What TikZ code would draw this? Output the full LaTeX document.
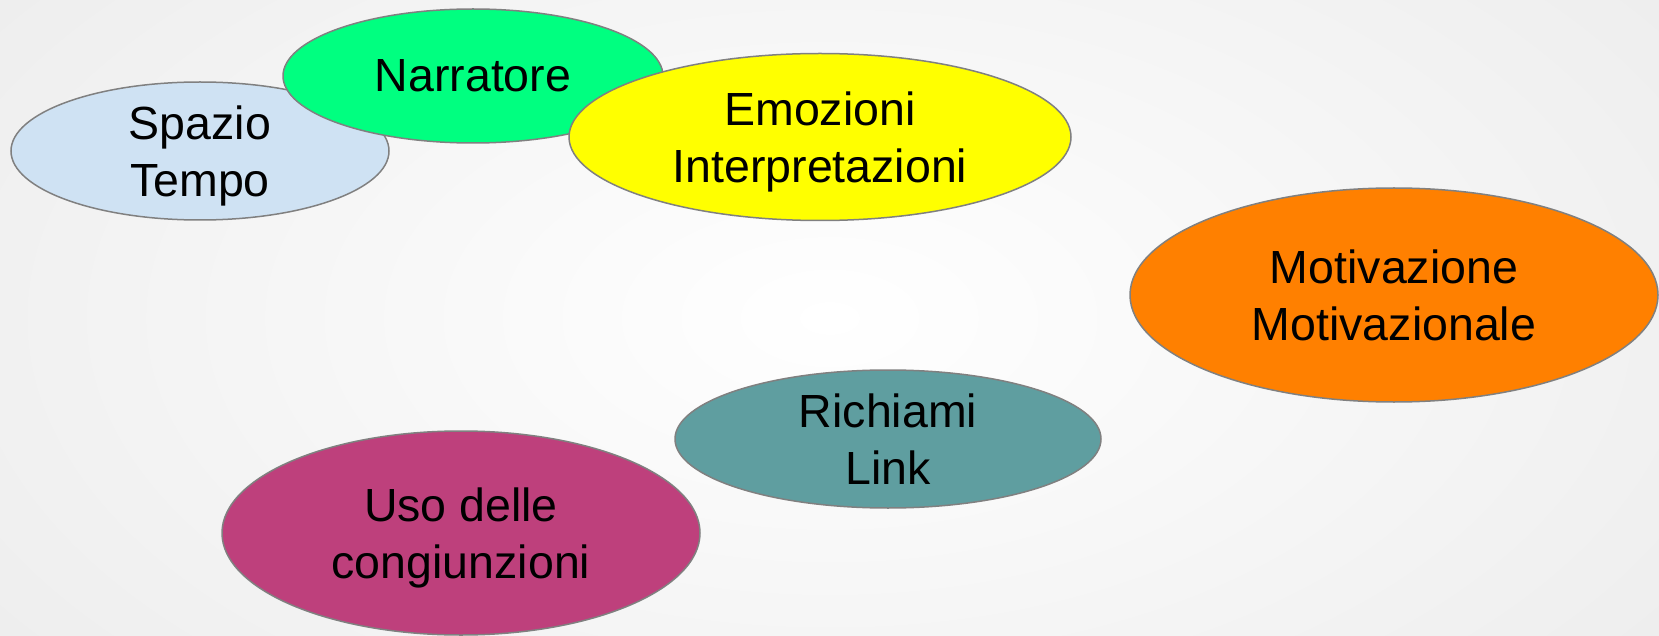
\documentclass[tikz,border=0pt]{standalone}
\usepackage{fontspec}
\setmainfont{Liberation Sans}
\usetikzlibrary{shapes.geometric}
\definecolor{cSpazio}{RGB}{207,226,243}
\definecolor{cNarr}{RGB}{0,255,128}
\definecolor{cEmo}{RGB}{255,255,0}
\definecolor{cMoti}{RGB}{255,128,0}
\definecolor{cRich}{RGB}{95,158,160}
\definecolor{cUso}{RGB}{190,64,124}
\definecolor{cEdge}{RGB}{128,128,128}
\definecolor{cBg}{RGB}{236,236,236}
\tikzset{
  bubble/.style={ellipse, draw=cEdge, line width=1.5pt, inner sep=0pt},
  lbl/.style={align=center, inner sep=0pt, text depth=0pt, font=\fontsize{46.5}{56.5}\selectfont, text=black}
}
\begin{document}
\begin{tikzpicture}[x=1pt, y=-1pt]
\useasboundingbox (0,0) rectangle (1659,636);
\shade[inner color=white, outer color=cBg] (-300,-300) rectangle (1959,936);
% ellipses
\node[bubble, fill=cSpazio, minimum width=378pt, minimum height=138pt] (spazio) at (200,151) {};
\node[lbl] (tspazio) at (spazio.center) {Spazio\\Tempo};
\node[bubble, fill=cNarr, minimum width=380pt, minimum height=134pt] (narr) at (473,76) {};
\node[lbl] (tnarr) at (narr.center) {Narratore};
\node[bubble, fill=cEmo, minimum width=502pt, minimum height=167pt] (emo) at (820,137) {};
\node[lbl] (temo) at (emo.center) {Emozioni\\Interpretazioni};
\node[bubble, fill=cMoti, minimum width=528pt, minimum height=214pt] (moti) at (1394,295) {};
\node[lbl] (tmoti) at (moti.center) {Motivazione\\Motivazionale};
\node[bubble, fill=cRich, minimum width=426pt, minimum height=138pt] (rich) at (888,439) {};
\node[lbl] (trich) at (rich.center) {Richiami\\Link};
\node[bubble, fill=cUso, minimum width=478pt, minimum height=204pt] (uso) at (461,533) {};
\node[lbl] (tuso) at (uso.center) {Uso delle\\congiunzioni};
\end{tikzpicture}
\end{document}
